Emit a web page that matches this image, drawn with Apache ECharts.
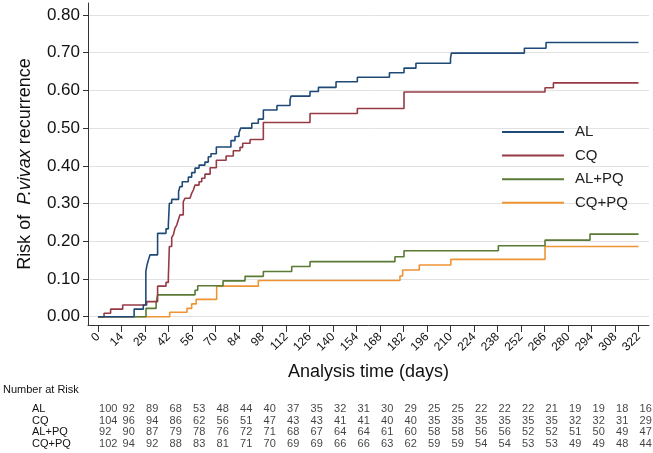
<!DOCTYPE html>
<html>
<head>
<meta charset="utf-8">
<script src="https://cdn.jsdelivr.net/npm/echarts@6/dist/echarts.min.js"></script>
<style>
html,body{margin:0;padding:0;background:#fff;}
#c{width:653px;height:453px;}
</style>
</head>
<body>
<div id="c"></div>
<script>
// ---- data ----
var xTicks = [0,14,28,42,56,70,84,98,112,126,140,154,168,182,196,210,224,238,252,266,280,294,308,322];
var yTicks = [0,0.1,0.2,0.3,0.4,0.5,0.6,0.7,0.8];
var groups = ['AL','CQ','AL+PQ','CQ+PQ'];

var alCurve = [[0,0],[21.5,0.02],[27,0.031],[28.5,0.12],[29.2,0.137],[30,0.15],[31,0.164],[35.5,0.221],[40.5,0.233],[41.9,0.243],[42.5,0.301],[43.9,0.311],[48,0.332],[48.8,0.345],[50.2,0.358],[53.8,0.37],[55.8,0.382],[57.8,0.394],[60.2,0.402],[63.7,0.41],[65.7,0.424],[67.3,0.432],[70.5,0.45],[79.2,0.467],[81.6,0.478],[84,0.488],[85,0.5],[91.6,0.513],[95.5,0.524],[98.5,0.548],[106.6,0.56],[114.4,0.575],[115,0.585],[126.3,0.597],[131.3,0.608],[141.8,0.623],[154.5,0.635],[173.6,0.647],[182.3,0.659],[189.4,0.672],[210,0.685],[210.5,0.699],[254,0.712],[266.9,0.727],[322,0.727]];
var cqCurve = [[0,0],[3.6,0.009],[7.5,0.02],[14.7,0.031],[29,0.04],[35.5,0.081],[40.5,0.091],[41.9,0.102],[42.5,0.186],[43.9,0.21],[44.9,0.217],[45.8,0.234],[46.9,0.243],[47.8,0.256],[48.8,0.27],[50.8,0.305],[51.8,0.314],[54.8,0.318],[55.8,0.327],[56.8,0.336],[57.8,0.349],[60.2,0.358],[61.8,0.367],[63.7,0.378],[66.8,0.395],[70.5,0.415],[76.3,0.426],[80.6,0.44],[84.6,0.449],[86.2,0.46],[90.6,0.47],[98.5,0.515],[126.3,0.539],[154.5,0.552],[182.3,0.596],[266.3,0.607],[271.3,0.62],[322,0.62]];
var alpqCurve = [[0,0],[28.6,0.022],[34.6,0.035],[35.5,0.058],[57.8,0.07],[59.4,0.082],[74.5,0.095],[87.6,0.107],[98.5,0.12],[115.4,0.133],[126.3,0.146],[176.9,0.159],[182.3,0.175],[238.5,0.188],[266.3,0.203],[293.1,0.219],[322,0.219]];
var cqpqCurve = [[0,0],[42.7,0.012],[53,0.022],[55.8,0.034],[58.5,0.046],[70.7,0.081],[95.5,0.096],[179.9,0.108],[181.5,0.124],[191.4,0.137],[210.2,0.152],[266.3,0.186],[322,0.186]];

var atRiskAL   = [100,92,89,68,53,48,44,40,37,35,32,31,30,29,25,25,22,22,22,21,19,19,18,16];
var atRiskCQ   = [104,96,94,86,62,56,51,47,43,43,41,41,40,40,35,35,35,35,35,35,32,32,31,29];
var atRiskALPQ = [92,90,87,79,78,76,72,71,68,67,64,64,61,60,58,58,56,56,52,52,51,50,49,47];
var atRiskCQPQ = [102,94,92,88,83,81,71,70,69,69,66,66,63,62,59,59,54,54,53,53,49,49,48,44];

// ---- build ----
var FONT = 'Liberation Sans, Arial, sans-serif';
var colors = ['#1f4a78','#963a45','#5a7a35','#ee9435'];
var curves = [alCurve, cqCurve, alpqCurve, cqpqCurve];
var atRisk = [atRiskAL, atRiskCQ, atRiskALPQ, atRiskCQPQ];

var xMin = -5.96, xMax = 328.25;

var series = curves.map(function(c, i){
  return {
    name: groups[i], type: 'line', step: 'end', data: c,
    xAxisIndex: 0, yAxisIndex: 0,
    showSymbol: false, symbol: 'none',
    lineStyle: {color: colors[i], width: 1.6},
    itemStyle: {color: colors[i]},
    z: 3 + (3 - i)
  };
});
var tableData = [];
atRisk.forEach(function(arr, r){
  arr.forEach(function(v, k){ tableData.push([xTicks[k], r, v]); });
});
series.push({
  type: 'scatter', xAxisIndex: 1, yAxisIndex: 1,
  data: tableData, symbolSize: 0.1,
  itemStyle: {color: 'rgba(0,0,0,0)'},
  silent: true,
  label: {show: true, position: 'right', distance: 1,
    formatter: function(p){ return p.value[2]; },
    fontFamily: FONT, fontSize: 11, color: '#111'}
});

var chart = echarts.init(document.getElementById('c'), null, {renderer: 'canvas'});
chart.setOption({
  animation: false,
  backgroundColor: '#fff',
  color: colors,
  title: {text: 'Number at Risk', left: 3, top: 384, padding: 0,
    textStyle: {fontFamily: FONT, fontSize: 11, fontWeight: 'normal', color: '#111'}},
  legend: {
    data: groups, orient: 'vertical', left: 502, top: 124, padding: 0,
    icon: 'rect', itemWidth: 62, itemHeight: 2, itemGap: 7.6,
    selectedMode: false,
    textStyle: {fontFamily: FONT, fontSize: 15, lineHeight: 16, color: '#222', padding: [0,0,0,6]}
  },
  grid: [
    {left: 88, top: 3, width: 561, height: 322, containLabel: false},
    {left: 88, top: 403, width: 561, height: 46.7, containLabel: false}
  ],
  xAxis: [
    {type: 'value', gridIndex: 0, min: xMin, max: xMax,
     name: 'Analysis time (days)', nameLocation: 'middle', nameGap: 38,
     nameTextStyle: {fontFamily: FONT, fontSize: 18, color: '#111'},
     axisLine: {show: true, onZero: false, lineStyle: {color: '#333', width: 1}},
     axisTick: {show: true, length: 7, customValues: xTicks, lineStyle: {color: '#333'}},
     axisLabel: {show: true, customValues: xTicks, rotate: 45, margin: 10,
       fontFamily: FONT, fontSize: 12, color: '#111'},
     splitLine: {show: false}},
    {type: 'value', gridIndex: 1, min: xMin, max: xMax, show: false}
  ],
  yAxis: [
    {type: 'value', gridIndex: 0, min: -0.022, max: 0.8318,
     name: '{n|Risk of  }{i|P.vivax}{n| recurrence}', nameLocation: 'middle', nameGap: 54, nameRotate: 90,
     nameTextStyle: {rich: {
       n: {fontFamily: FONT, fontSize: 18, color: '#111'},
       i: {fontFamily: FONT, fontSize: 18, fontStyle: 'italic', color: '#111'}
     }},
     axisLine: {show: true, onZero: false, lineStyle: {color: '#333', width: 1}},
     axisTick: {show: true, length: 5, customValues: yTicks, lineStyle: {color: '#333'}},
     axisLabel: {show: true, customValues: yTicks, margin: 8,
       formatter: function(v){ return v.toFixed(2); },
       fontFamily: FONT, fontSize: 17, color: '#111'},
     splitLine: {show: true, lineStyle: {color: '#e2e2e2', width: 1}}},
    {type: 'category', gridIndex: 1, data: groups, inverse: true,
     axisLine: {show: false}, axisTick: {show: false}, splitLine: {show: false},
     axisLabel: {show: true, interval: 0, align: 'left', margin: 56, fontFamily: FONT, fontSize: 11, color: '#111'}}
  ],
  series: series
});
</script>
</body>
</html>
